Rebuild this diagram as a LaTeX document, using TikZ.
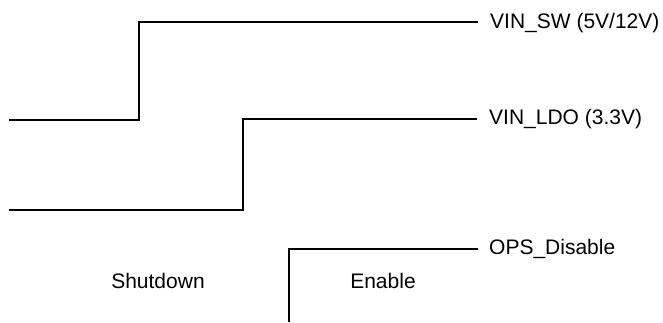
\documentclass[tikz,border=0pt]{standalone}
\usepackage{fontspec}
\setmainfont{Liberation Sans}
\usepackage{tikz}
\usetikzlibrary{positioning}

\begin{document}
\begin{tikzpicture}[
x=1pt, y=-1pt,
sig/.style={line width=1.7pt, line join=miter},
lbl/.style={anchor=west, inner sep=0pt, font=\fontsize{21}{25}\selectfont},
phase/.style={inner sep=0pt, font=\fontsize{21}{25}\selectfont}
]
\useasboundingbox (0,0) rectangle (663,322);

% VIN_SW
\coordinate (sw0) at (9,120);
\coordinate (sw1) at (139,22);
\coordinate (sw2) at (478,22);
\node[lbl] (swlbl) at (490,23) {VIN\_SW (5V/12V)};
\draw[sig] (sw0) -| (sw1) -- (sw2);

% VIN_LDO
\coordinate (ldo0) at (9,210);
\coordinate (ldo1) at (243,119);
\coordinate (ldo2) at (477,119);
\node[lbl] (ldolbl) at (489,119) {VIN\_LDO (3.3V)};
\draw[sig] (ldo0) -| (ldo1) -- (ldo2);

% OPS_Disable
\coordinate (ops0) at (289,322);
\coordinate (ops1) at (289,249);
\coordinate (ops2) at (478,249);
\node[lbl] (opslbl) at (489,249) {OPS\_Disable};
\draw[sig] (ops0) -- (ops1) -- (ops2);

\node[phase] (shut) at (158,281) {Shutdown};
\node[phase] (en) at (383,281) {Enable};
\end{tikzpicture}
\end{document}
